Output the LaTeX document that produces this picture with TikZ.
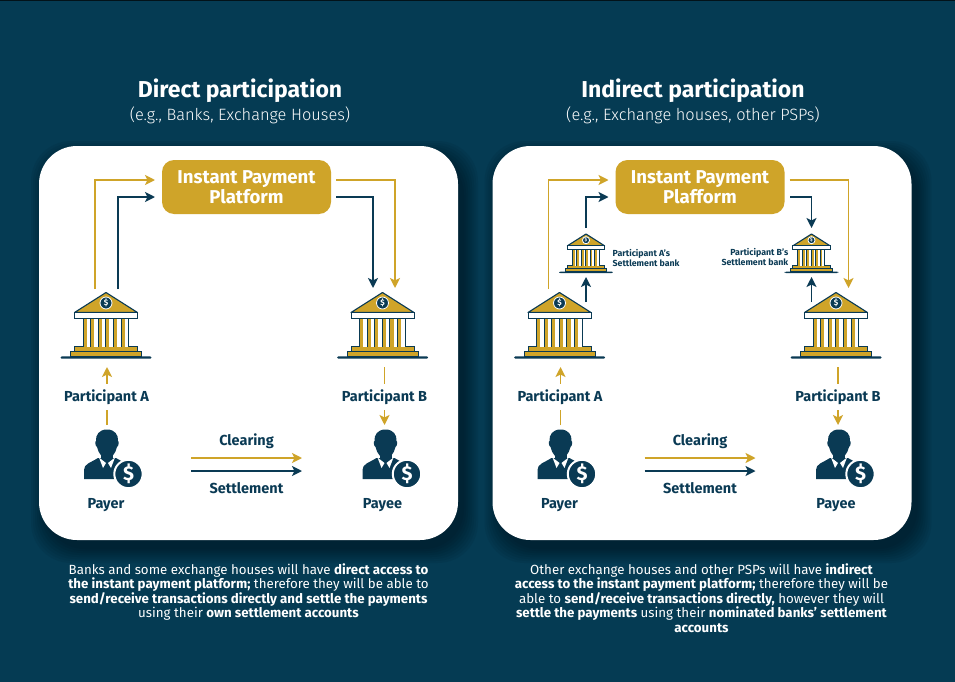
\documentclass[tikz,border=0pt]{standalone}
\usepackage{fontspec}
\setmainfont{Fira Sans}
\newfontfamily\lightface{Fira Sans Light}
\usetikzlibrary{arrows.meta}
\definecolor{ink}{HTML}{0A3A54}
\definecolor{ground}{HTML}{053B53}
\definecolor{ochre}{HTML}{CFA429}
\newcommand{\fsz}[1]{\fontsize{#1}{#1}\selectfont}
\tikzset{
  x=1pt,y=-1pt,
  tip/.style={-{Stealth[length=10pt,width=10pt,inset=2.5pt]}},
  goldline/.style={draw=ochre,line width=1.8pt,tip},
  navyline/.style={draw=ink,line width=1.8pt,tip},
  card/.style={fill=white,rounded corners=38pt},
  platform/.style={fill=ochre,rounded corners=12pt,minimum width=169pt,minimum height=54pt,
    align=center,text=white,font=\fsz{18.6}\bfseries,inner sep=0pt},
  actor/.style={text=ink,font=\fsz{14.5}\bfseries,inner sep=0pt},
  roleLabel/.style={text=ink,font=\fsz{14.5}\bfseries,fill=white,inner xsep=1pt,inner ysep=6pt},
  small/.style={text=ink,font=\fsz{8.8}\bfseries,inner sep=0pt},
  heading/.style={text=white,font=\fsz{23}\bfseries,inner sep=0pt},
  subheading/.style={text=white,font=\fsz{16.4}\lightface,inner sep=0pt},
  caption/.style={text=white,font=\fontsize{13.3}{14.5}\selectfont,align=center,inner sep=0pt},
  bank/.pic={
    \fill[ink,rounded corners=1.2pt] (-45.5,63.8) rectangle (45.5,66.2);
    \filldraw[fill=ochre,draw=ink,line width=1pt] (-35.5,58.5) rectangle (35.5,64);
    \filldraw[fill=ochre,draw=ink,line width=1pt] (-31.5,54) rectangle (31.5,58.5);
    \foreach \cx in {-23,-15.4,-7.8,-.2,7.4,15} {
      \fill[ochre] (\cx,25) rectangle ++(3.6,29);
      \fill[white] (\cx+3.6,25) rectangle ++(4,29);
      \draw[ink,line width=1pt] (\cx,25) -- ++(0,29);
    }
    \draw[ink,line width=1pt] (22.8,25) -- (22.8,54);
    \filldraw[fill=ochre,draw=ink,line width=1.1pt,line join=round] (0,0) -- (31.5,20) -- (-31.5,20) -- cycle;
    \filldraw[fill=white,draw=ink,line width=1pt] (-31.5,20) rectangle (31.5,25.5);
    \filldraw[fill=ink,draw=white,line width=.8pt] (0,10.5) circle (6);
    \node[transform shape,text=white,font=\fsz{8}\bfseries,inner sep=0pt] at (0,10.5) {\$};
  },
  person/.pic={
    % shoulders and chest
    \fill[ink] (-23,36) -- (-23,27) .. controls (-23,21) and (-17,20) .. (-9,15)
      -- (9,15) .. controls (17,20) and (24,21) .. (25,27) -- (25,36) -- cycle;
    % shirt collar beside the tie
    \fill[white] (-8,14.5) -- (-1,20) -- (-4,25) -- cycle;
    \fill[white] (8,14.5) -- (1,20) -- (4,25) -- cycle;
    % neck and head
    \fill[ink] (-6,8) rectangle (6,16);
    \fill[ink] (0,-13.5) .. controls (8,-13.5) and (11.5,-8) .. (11,-2)
      .. controls (12,-2) and (12,3) .. (10,4)
      .. controls (8.5,11) and (4,15.5) .. (0,15.5)
      .. controls (-4,15.5) and (-8.5,11) .. (-10,4)
      .. controls (-12,3) and (-12,-2) .. (-11,-2)
      .. controls (-11.5,-8) and (-8,-13.5) .. (0,-13.5) -- cycle;
    % coin
    \filldraw[fill=ink,draw=white,line width=2pt] (21.5,31) circle (14.2);
    \node[text=white,font=\fsz{20}\bfseries,inner sep=0pt] at (21.5,31) {\$};
  }
}
% Elements shared by both panels: #1 name prefix, #2 horizontal offset
\newcommand{\panel}[3]{%
  \begin{scope}[shift={(#2,0)}]
    \foreach \g in {14,12,...,0}
      \fill[black,opacity=.05,rounded corners=40pt] (39-\g+6,146-\g+9) rectangle (458+\g+6,540+\g+9);
    \fill[card] (39,146) rectangle (458,540);
    \node[platform] (#1plat) at (246.5,187) {Instant Payment\\[1pt]#3};
    \node[actor] (#1payer) at (106,505.5) {Payer};
    \node[actor] (#1payee) at (382.5,505.5) {Payee};
    \pic at (106,292.5) {bank};
    \pic at (382.5,292.5) {bank};
    \pic at (107,443) {person};
    \pic at (385.5,443) {person};
    \coordinate (#1pa) at (107,425);
    \coordinate (#1pb) at (107,367);
    \coordinate (#1qa) at (384.5,367);
    \coordinate (#1qb) at (384.5,425);
    \coordinate (#1ca) at (191,458);
    \coordinate (#1cb) at (302,458);
    \coordinate (#1sa) at (191,471);
    \coordinate (#1sb) at (302,471);
    \draw[goldline] (#1pa) -- (#1pb);
    \draw[goldline] (#1qa) -- (#1qb);
    \draw[goldline] (#1ca) -- (#1cb);
    \draw[navyline] (#1sa) -- (#1sb);
    \node[roleLabel] (#1la) at (106.5,397) {Participant A};
    \node[roleLabel] (#1lb) at (384.5,397) {Participant B};
    \node[actor] (#1clear) at (246.5,441) {Clearing};
    \node[actor] (#1settle) at (246.5,488.5) {Settlement};
    % gold route, common to both panels
    \coordinate (#1g1) at (95,289);
    \coordinate (#1g2) at (95,180);
    \coordinate (#1g3) at (155,180);
    \coordinate (#1g4) at (336,180);
    \coordinate (#1g5) at (395,180);
    \coordinate (#1g6) at (395,288);
    \draw[goldline] (#1g1) -- (#1g2) -- (#1g3);
    \draw[goldline] (#1g4) -- (#1g5) -- (#1g6);
  \end{scope}}
\begin{document}
\begin{tikzpicture}
\useasboundingbox (0,0) rectangle (955,682);
\fill[ground] (0,0) rectangle (955,682);
\fill[black!70!ground] (0,0) rectangle (955,1);

\node[heading] (t1) at (240,91) {Direct participation};
\node[subheading] (s1) at (240,115) {(e.g., Banks, Exchange Houses)};
\node[heading] (t2) at (693,91) {Indirect participation};
\node[subheading] (s2) at (693,115) {(e.g., Exchange houses, other PSPs)};

\panel{d}{0}{Platform}
\panel{i}{453.5}{Plafform}

% direct route: navy lines run straight between participants and platform
\coordinate (dn1) at (118,289);
\coordinate (dn2) at (118,197);
\coordinate (dn3) at (155,197);
\coordinate (dn4) at (336,197);
\coordinate (dn5) at (373,197);
\coordinate (dn6) at (373,288);
\draw[navyline] (dn1) -- (dn2) -- (dn3);
\draw[navyline] (dn4) -- (dn5) -- (dn6);

% indirect route: navy lines pass through the settlement banks
\pic[scale=.59,transform shape] at (586,234) {bank};
\pic[scale=.59,transform shape] at (811.5,234) {bank};
\coordinate (in1) at (586,228);
\coordinate (in2) at (586,197);
\coordinate (in3) at (608.5,197);
\coordinate (in4) at (790,197);
\coordinate (in5) at (811.5,197);
\coordinate (in6) at (811.5,228);
\coordinate (ia1) at (586,302);
\coordinate (ia2) at (586,277);
\coordinate (ib1) at (811.5,302);
\coordinate (ib2) at (811.5,277);
\draw[navyline] (in1) -- (in2) -- (in3);
\draw[navyline] (in4) -- (in5) -- (in6);
\draw[navyline] (ia1) -- (ia2);
\draw[navyline] (ib1) -- (ib2);
\node[small,anchor=west,align=left] (sa) at (612.5,258) {Participant A's\\[.5pt]Settlement bank};
\node[small,anchor=east,align=right] (sb) at (788.5,257) {Participant B's\\[.5pt]Settlement bank};

\node[caption] (c1) at (248.5,592) {Banks and some exchange houses will have \textbf{direct access to}\\
  \textbf{the instant payment platform;} therefore they will be able to\\
  \textbf{send/receive transactions directly and settle the payments}\\
  using their \textbf{own settlement accounts}};
\node[caption] (c2) at (701.5,598) {Other exchange houses and other PSPs will have \textbf{indirect}\\
  \textbf{access to the instant payment platform;} therefore they will be\\
  able to \textbf{send/receive transactions directly,} however they will\\
  \textbf{settle the payments} using their \textbf{nominated banks' settlement}\\
  \textbf{accounts}};
\end{tikzpicture}
\end{document}
